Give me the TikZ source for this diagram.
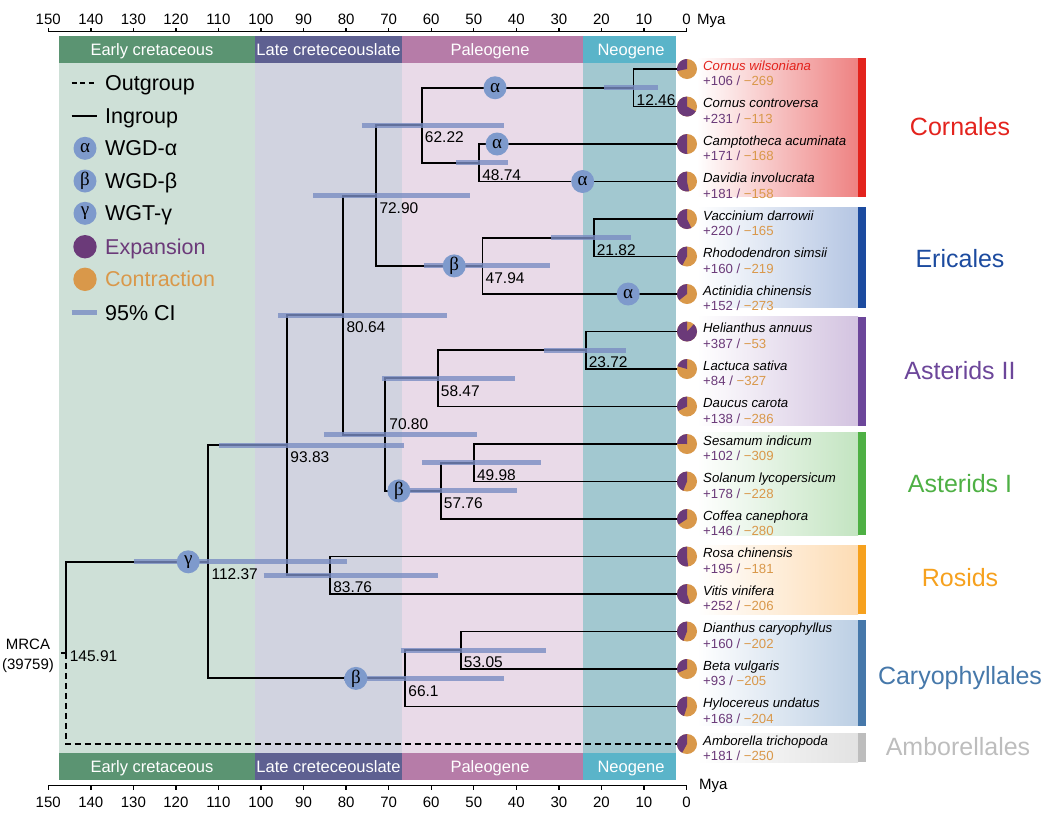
\documentclass[tikz,border=0pt]{standalone}
\usepackage{fontspec}
\setmainfont{Liberation Sans}
\newfontfamily\greekserif{Liberation Serif}
\usepackage{tikz}
\usetikzlibrary{positioning}

\definecolor{earlydark}{HTML}{5B9472}
\definecolor{earlylight}{HTML}{CEE0D7}
\definecolor{latedark}{HTML}{5E6091}
\definecolor{latelight}{HTML}{D1D3E0}
\definecolor{paleodark}{HTML}{B67CA8}
\definecolor{paleolight}{HTML}{E9DAE8}
\definecolor{neodark}{HTML}{5AB4C9}
\definecolor{neolight}{HTML}{A2C8D0}
\definecolor{expand}{HTML}{6B3A79}
\definecolor{contract}{HTML}{D9984A}
\definecolor{wgdblue}{HTML}{7E9ACC}
\definecolor{cibar}{HTML}{7A8DC3}
\definecolor{cornbar}{HTML}{E3231D}
\definecolor{corntint}{HTML}{EE8282}
\definecolor{ericbar}{HTML}{1C4B9F}
\definecolor{erictint}{HTML}{B5C6E3}
\definecolor{asttwobar}{HTML}{6C469A}
\definecolor{asttwotint}{HTML}{D3C3E0}
\definecolor{astonebar}{HTML}{4EB044}
\definecolor{astonetint}{HTML}{C3E4C1}
\definecolor{rosbar}{HTML}{F6A11E}
\definecolor{rostint}{HTML}{FDDCB4}
\definecolor{carybar}{HTML}{4678AA}
\definecolor{carytint}{HTML}{BCCFE4}
\definecolor{ambobar}{HTML}{BDBDBD}
\definecolor{ambotint}{HTML}{E2E2E2}

% pie of gained (purple) and lost (orange) families
\newcommand\genepie[3]{%
  \fill [contract] (#1) circle (10);
  \pgfmathsetmacro\pieend{-90-360*(#2/(#2+#3))}
  \fill [expand] (#1) -- ++(-90:10) arc [start angle=-90, end angle=\pieend, radius=10] -- cycle;
}
\newcommand\counts[2]{\textcolor{expand}{+#1 /} \textcolor{contract}{−#2}}

\begin{document}
\begin{tikzpicture}
    [ x = 1pt, y = -1pt
    , declare function = { mya(\age) = 686.5 - 4.255*\age; }
    , branch/.style =
      { line width = 1.9pt }
    , outgroup/.style =
      { branch, dash pattern = on 6pt off 4pt }
    , ci/.style =
      { line width = 5pt, cibar, opacity = .8 }
    , wgd/.style =
      { circle, fill = wgdblue, inner sep = 0pt, minimum size = 23pt
      , font = \greekserif\fontsize{19}{19}\selectfont }
    , nodeage/.style =
      { anchor = west, inner sep = 0pt, shift = {(3,12.3)}
      , font = \fontsize{15.5}{15.5}\selectfont }
    , taxon/.style =
      { anchor = west, align = left, inner sep = 0pt, shift = {(16,4.3)}
      , font = \fontsize{13.2}{15.5}\selectfont }
    , period/.style =
      { anchor = base, text = white, font = \fontsize{16.5}{16.5}\selectfont }
    , clade/.style =
      { anchor = base, font = \fontsize{25}{25}\selectfont }
    , legend/.style =
      { anchor = base west, inner sep = 0pt, font = \fontsize{21.5}{21.5}\selectfont }
    , tick/.style =
      { inner sep = 0pt, font = \fontsize{15}{15}\selectfont }
    , axis/.style =
      { line width = 1.4pt }
    ]
    \useasboundingbox (0,0) rectangle (1050,812);

    % geological periods
    \fill [earlylight] ({mya(147.5)},63) rectangle ({mya(101.4)},753);
    \fill [latelight] ({mya(101.4)},63) rectangle ({mya(66.9)},753);
    \fill [paleolight] ({mya(66.9)},63) rectangle ({mya(24.3)},753);
    \fill [neolight] ({mya(24.3)},63) rectangle ({mya(2.5)},753);
    \fill [earlydark] ({mya(147.5)},36) rectangle ({mya(101.4)},63);
    \fill [latedark] ({mya(101.4)},36) rectangle ({mya(66.9)},63);
    \fill [paleodark] ({mya(66.9)},36) rectangle ({mya(24.3)},63);
    \fill [neodark] ({mya(24.3)},36) rectangle ({mya(2.5)},63);
    \fill [earlydark] ({mya(147.5)},753) rectangle ({mya(101.4)},780);
    \fill [latedark] ({mya(101.4)},753) rectangle ({mya(66.9)},780);
    \fill [paleodark] ({mya(66.9)},753) rectangle ({mya(24.3)},780);
    \fill [neodark] ({mya(24.3)},753) rectangle ({mya(2.5)},780);
    \node [period] (early) at (152,55.5) {Early cretaceous};
    \node [period] (late) at (328.5,55.5) {Late creteceouslate};
    \node [period] (paleo) at (490,55.5) {Paleogene};
    \node [period] (neo) at (631,55.5) {Neogene};
    \node [period] (early2) at (152,772.4) {Early cretaceous};
    \node [period] (late2) at (328.5,772.4) {Late creteceouslate};
    \node [period] (paleo2) at (490,772.4) {Paleogene};
    \node [period] (neo2) at (631,772.4) {Neogene};

    % time axes
    \draw [axis] ({mya(150)},31.5) -- ({mya(0)},31.5);
    \draw [axis] ({mya(150)},785.5) -- ({mya(0)},785.5);
    \foreach \m in {0,10,...,150}
      { \draw [axis] ({mya(\m)},31.5) -- ++(0,-4);
        \draw [axis] ({mya(\m)},785.5) -- ++(0,4);
        \node [tick] (top\m) at ({mya(\m)},19) {\m};
        \node [tick] (bot\m) at ({mya(\m)},802) {\m};
      }
    \node [tick, anchor=base west] (myatop) at (697,24.4) {Mya};
    \node [tick, anchor=base west] (myabot) at (699,789.5) {Mya};

    % clades
    \shade [left color=white, right color=corntint] (697,58) rectangle (858,196.7);
    \shade [left color=white, right color=erictint] (697,207) rectangle (858,307.7);
    \shade [left color=white, right color=asttwotint] (697,316.7) rectangle (858,425.7);
    \shade [left color=white, right color=astonetint] (697,432.3) rectangle (858,535);
    \shade [left color=white, right color=rostint] (697,545) rectangle (858,614);
    \shade [left color=white, right color=carytint] (697,620) rectangle (858,725.7);
    \shade [left color=white, right color=ambotint] (697,733.3) rectangle (858,762.3);
    \fill [cornbar] (858,58) rectangle (866,196.7);
    \fill [ericbar] (858,207) rectangle (866,307.7);
    \fill [asttwobar] (858,316.7) rectangle (866,425.7);
    \fill [astonebar] (858,432.3) rectangle (866,535);
    \fill [rosbar] (858,545) rectangle (866,614);
    \fill [carybar] (858,620) rectangle (866,725.7);
    \fill [ambobar] (858,733.3) rectangle (866,762.3);
    \node [clade, text=cornbar] (cornales) at (960,135.7) {Cornales};
    \node [clade, text=ericbar] (ericales) at (960,267) {Ericales};
    \node [clade, text=asttwobar] (asteridsii) at (960,379.7) {Asterids II};
    \node [clade, text=astonebar] (asteridsi) at (960,492) {Asterids I};
    \node [clade, text=rosbar] (rosids) at (960,586.7) {Rosids};
    \node [clade, text=carybar] (caryo) at (960,684) {Caryophyllales};
    \node [clade, text=ambobar] (ambo) at (958,755.7) {Amborellales};

    % tips
    \coordinate (t1) at (687,69);
    \coordinate (t2) at (687,106.5);
    \coordinate (t3) at (687,144);
    \coordinate (t4) at (687,181.5);
    \coordinate (t5) at (687,219);
    \coordinate (t6) at (687,256.5);
    \coordinate (t7) at (687,294);
    \coordinate (t8) at (687,331.5);
    \coordinate (t9) at (687,369);
    \coordinate (t10) at (687,406.5);
    \coordinate (t11) at (687,444);
    \coordinate (t12) at (687,481.5);
    \coordinate (t13) at (687,519);
    \coordinate (t14) at (687,556.5);
    \coordinate (t15) at (687,594);
    \coordinate (t16) at (687,631.5);
    \coordinate (t17) at (687,669);
    \coordinate (t18) at (687,706.5);
    \coordinate (t19) at (687,744);

    % inner nodes, x from age
    \coordinate (n1246) at ({mya(12.46)},87.75);
    \coordinate (n4874) at ({mya(48.74)},162.75);
    \coordinate (n6222) at ({mya(62.22)},125.25);
    \coordinate (n2182) at ({mya(21.82)},237.75);
    \coordinate (n4794) at ({mya(47.94)},265.9);
    \coordinate (n7290) at ({mya(72.90)},195.6);
    \coordinate (n2372) at ({mya(23.72)},350.25);
    \coordinate (n5847) at ({mya(58.47)},378.4);
    \coordinate (n4998) at ({mya(49.98)},462.75);
    \coordinate (n5776) at ({mya(57.76)},490.9);
    \coordinate (n7080) at ({mya(70.80)},434.6);
    \coordinate (n8064) at ({mya(80.64)},315.1);
    \coordinate (n8376) at ({mya(83.76)},575.25);
    \coordinate (n9383) at ({mya(93.83)},445.2);
    \coordinate (n5305) at ({mya(53.05)},650.25);
    \coordinate (n6610) at ({mya(66.1)},678.4);
    \coordinate (n11237) at ({mya(112.37)},561.8);
    \coordinate (root) at ({mya(145.91)},652.9);

    % branches
    \draw [branch] (root) |- (n11237);
    \draw [outgroup] (root) |- (t19);
    \draw [branch] (root) -- ++(-5,0);
    \draw [branch] (n11237) |- (n9383) (n11237) |- (n6610);
    \draw [branch] (n9383) |- (n8064) (n9383) |- (n8376);
    \draw [branch] (n8064) |- (n7290) (n8064) |- (n7080);
    \draw [branch] (n7290) |- (n6222) (n7290) |- (n4794);
    \draw [branch] (n6222) |- (n1246) (n6222) |- (n4874);
    \draw [branch] (n1246) |- (t1) (n1246) |- (t2);
    \draw [branch] (n4874) |- (t3) (n4874) |- (t4);
    \draw [branch] (n4794) |- (n2182) (n4794) |- (t7);
    \draw [branch] (n2182) |- (t5) (n2182) |- (t6);
    \draw [branch] (n7080) |- (n5847) (n7080) |- (n5776);
    \draw [branch] (n5847) |- (n2372) (n5847) |- (t10);
    \draw [branch] (n2372) |- (t8) (n2372) |- (t9);
    \draw [branch] (n5776) |- (n4998) (n5776) |- (t13);
    \draw [branch] (n4998) |- (t11) (n4998) |- (t12);
    \draw [branch] (n8376) |- (t14) (n8376) |- (t15);
    \draw [branch] (n6610) |- (n5305) (n6610) |- (t18);
    \draw [branch] (n5305) |- (t16) (n5305) |- (t17);

    % 95% CI
    \draw [ci] ({mya(19.4)},87.75) -- ({mya(6.6)},87.75);
    \draw [ci] ({mya(76.3)},125.25) -- ({mya(43.0)},125.25);
    \draw [ci] ({mya(54.2)},162.75) -- ({mya(41.9)},162.75);
    \draw [ci] ({mya(87.7)},195.6) -- ({mya(50.9)},195.6);
    \draw [ci] ({mya(31.8)},237.75) -- ({mya(13.1)},237.75);
    \draw [ci] ({mya(61.7)},265.9) -- ({mya(32.1)},265.9);
    \draw [ci] ({mya(95.9)},315.1) -- ({mya(56.4)},315.1);
    \draw [ci] ({mya(33.5)},350.25) -- ({mya(14.2)},350.25);
    \draw [ci] ({mya(71.5)},378.4) -- ({mya(40.3)},378.4);
    \draw [ci] ({mya(85.2)},434.6) -- ({mya(49.3)},434.6);
    \draw [ci] ({mya(109.8)},445.2) -- ({mya(66.3)},445.2);
    \draw [ci] ({mya(62.1)},462.75) -- ({mya(34.2)},462.75);
    \draw [ci] ({mya(68.5)},490.9) -- ({mya(39.8)},490.9);
    \draw [ci] ({mya(129.9)},561.8) -- ({mya(79.7)},561.8);
    \draw [ci] ({mya(99.4)},575.25) -- ({mya(58.5)},575.25);
    \draw [ci] ({mya(67.2)},650.25) -- ({mya(33.1)},650.25);
    \draw [ci] ({mya(80.6)},678.4) -- ({mya(42.8)},678.4);

    % polyploidy events
    \node [wgd] (wa1) at ({mya(45.0)},87.75) {α};
    \node [wgd] (wa2) at ({mya(44.5)},144) {α};
    \node [wgd] (wa3) at ({mya(24.4)},181.5) {α};
    \node [wgd] (wb1) at ({mya(54.6)},265.9) {β};
    \node [wgd] (wa4) at ({mya(13.7)},294) {α};
    \node [wgd] (wb2) at ({mya(67.6)},490.9) {β};
    \node [wgd] (wg) at ({mya(117.1)},561.8) {γ};
    \node [wgd] (wb3) at ({mya(77.7)},678.4) {β};

    % node ages
    \node [nodeage] at (n1246) {12.46};
    \node [nodeage] at (n4874) {48.74};
    \node [nodeage] at (n6222) {62.22};
    \node [nodeage] at (n2182) {21.82};
    \node [nodeage] at (n4794) {47.94};
    \node [nodeage] at (n7290) {72.90};
    \node [nodeage] at (n2372) {23.72};
    \node [nodeage] at (n5847) {58.47};
    \node [nodeage] at (n4998) {49.98};
    \node [nodeage] at (n5776) {57.76};
    \node [nodeage, shift={(1,-23)}] at (n7080) {70.80};
    \node [nodeage] at (n8064) {80.64};
    \node [nodeage] at (n8376) {83.76};
    \node [nodeage] at (n9383) {93.83};
    \node [nodeage] at (n5305) {53.05};
    \node [nodeage] at (n6610) {66.1};
    \node [nodeage] at (n11237) {112.37};
    \node [nodeage, shift={(1,-9)}] at (root) {145.91};
    \node [align=center, font=\fontsize{15}{20}\selectfont] (mrca) at (28,656) {MRCA\\(39759)};

    % gene family pies
    \genepie{t1}{106}{269}
    \genepie{t2}{231}{113}
    \genepie{t3}{171}{168}
    \genepie{t4}{181}{158}
    \genepie{t5}{220}{165}
    \genepie{t6}{160}{219}
    \genepie{t7}{152}{273}
    \genepie{t8}{387}{53}
    \genepie{t9}{84}{327}
    \genepie{t10}{138}{286}
    \genepie{t11}{102}{309}
    \genepie{t12}{178}{228}
    \genepie{t13}{146}{280}
    \genepie{t14}{195}{181}
    \genepie{t15}{252}{206}
    \genepie{t16}{160}{202}
    \genepie{t17}{93}{205}
    \genepie{t18}{168}{204}
    \genepie{t19}{181}{250}

    % species
    \node [taxon] (l1) at (t1) {\textcolor{cornbar}{\textit{Cornus wilsoniana}}\\\counts{106}{269}};
    \node [taxon] (l2) at (t2) {\textit{Cornus controversa}\\\counts{231}{113}};
    \node [taxon] (l3) at (t3) {\textit{Camptotheca acuminata}\\\counts{171}{168}};
    \node [taxon] (l4) at (t4) {\textit{Davidia involucrata}\\\counts{181}{158}};
    \node [taxon] (l5) at (t5) {\textit{Vaccinium darrowii}\\\counts{220}{165}};
    \node [taxon] (l6) at (t6) {\textit{Rhododendron simsii}\\\counts{160}{219}};
    \node [taxon] (l7) at (t7) {\textit{Actinidia chinensis}\\\counts{152}{273}};
    \node [taxon] (l8) at (t8) {\textit{Helianthus annuus}\\\counts{387}{53}};
    \node [taxon] (l9) at (t9) {\textit{Lactuca sativa}\\\counts{84}{327}};
    \node [taxon] (l10) at (t10) {\textit{Daucus carota}\\\counts{138}{286}};
    \node [taxon] (l11) at (t11) {\textit{Sesamum indicum}\\\counts{102}{309}};
    \node [taxon] (l12) at (t12) {\textit{Solanum lycopersicum}\\\counts{178}{228}};
    \node [taxon] (l13) at (t13) {\textit{Coffea canephora}\\\counts{146}{280}};
    \node [taxon] (l14) at (t14) {\textit{Rosa chinensis}\\\counts{195}{181}};
    \node [taxon] (l15) at (t15) {\textit{Vitis vinifera}\\\counts{252}{206}};
    \node [taxon] (l16) at (t16) {\textit{Dianthus caryophyllus}\\\counts{160}{202}};
    \node [taxon] (l17) at (t17) {\textit{Beta vulgaris}\\\counts{93}{205}};
    \node [taxon] (l18) at (t18) {\textit{Hylocereus undatus}\\\counts{168}{204}};
    \node [taxon] (l19) at (t19) {\textit{Amborella trichopoda}\\\counts{181}{250}};

    % legend
    \draw [outgroup, dash pattern = on 5pt off 3.5pt] (71.5,83) -- (97,83);
    \node [legend] (lgout) at (105,90.5) {Outgroup};
    \draw [branch] (71.5,116) -- (97,116);
    \node [legend] (lgin) at (105,123.5) {Ingroup};
    \node [wgd] (lga) at (85,148.3) {α};
    \node [legend] (lgatext) at (105,155.8) {WGD-α};
    \node [wgd] (lgb) at (85,181) {β};
    \node [legend] (lgbtext) at (105,188.5) {WGD-β};
    \node [wgd] (lgg) at (85,213.3) {γ};
    \node [legend] (lggtext) at (105,220.8) {WGT-γ};
    \node [circle, fill=expand, inner sep=0pt, minimum size=23.4pt] (lgexp) at (85,246.7) {};
    \node [legend, text=expand] (lgexptext) at (105,254.2) {Expansion};
    \node [circle, fill=contract, inner sep=0pt, minimum size=23.4pt] (lgcon) at (85,279.3) {};
    \node [legend, text=contract] (lgcontext) at (105,286.8) {Contraction};
    \draw [ci] (71.5,312.7) -- (97,312.7);
    \node [legend] (lgci) at (105,320.2) {95\% CI};
\end{tikzpicture}
\end{document}
